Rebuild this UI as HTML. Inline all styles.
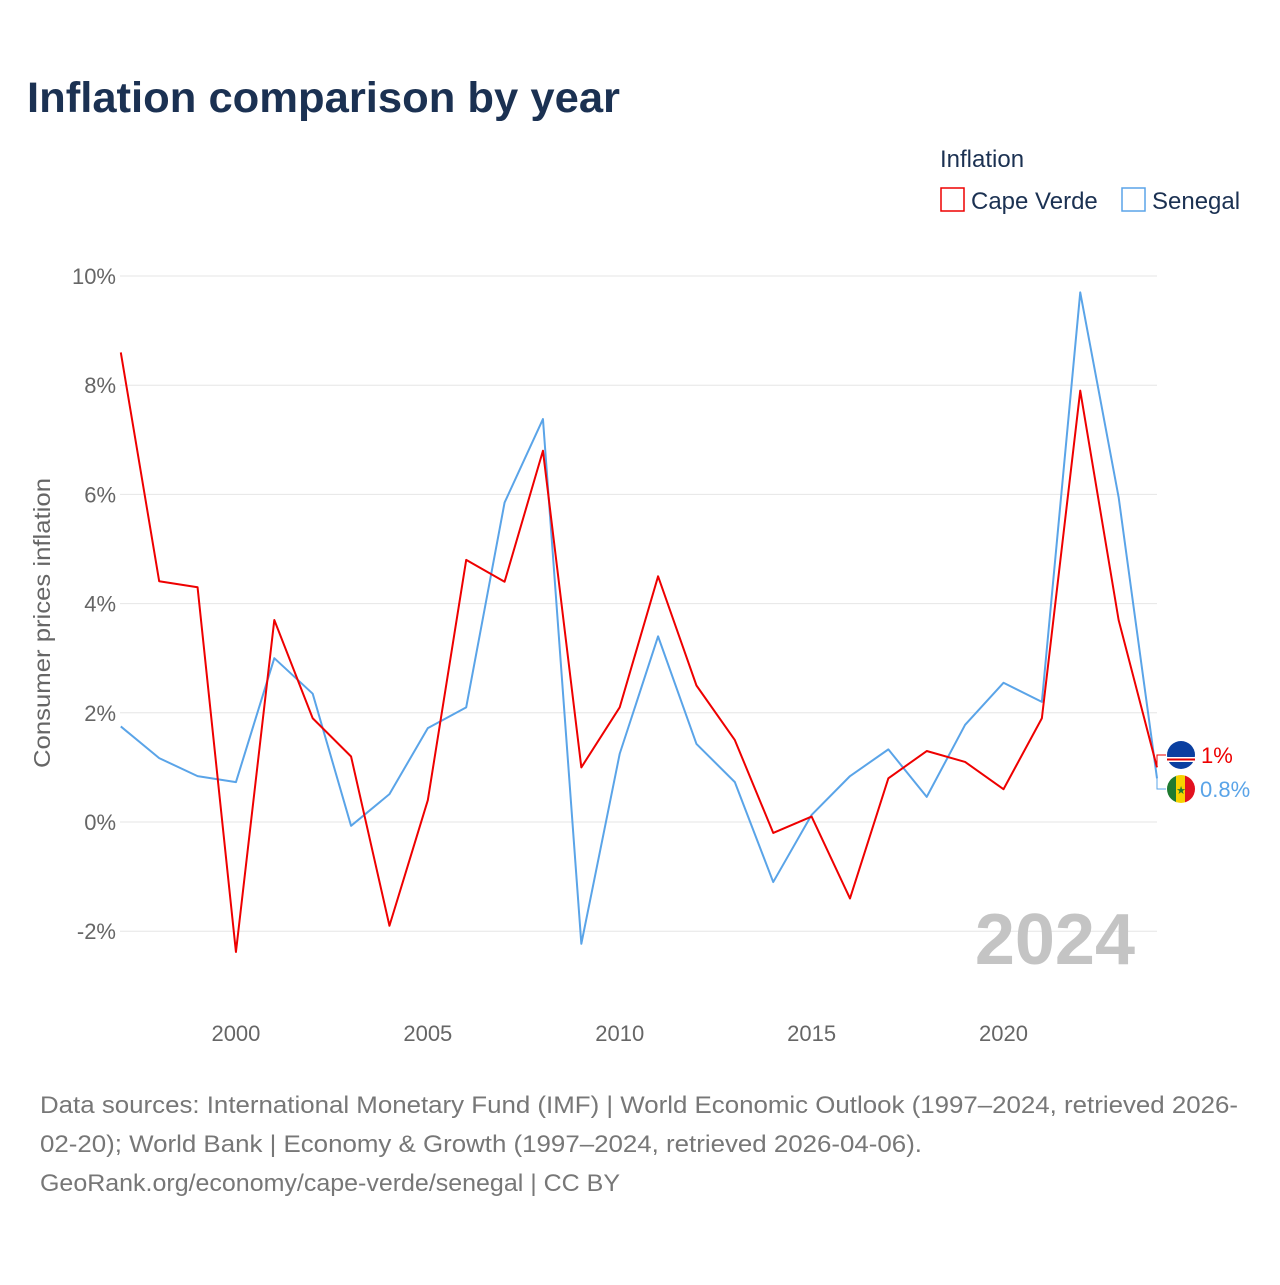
<!DOCTYPE html>
<html><head><meta charset="utf-8"><style>
body{margin:0;background:#fff;font-family:"Liberation Sans",sans-serif;}
svg text{font-family:"Liberation Sans",sans-serif;}
</style></head><body>
<svg id="chart" width="1280" height="1280" viewBox="0 0 1280 1280">
<text x="27" y="112" font-size="43" font-weight="bold" fill="#1b3152" textLength="593" lengthAdjust="spacingAndGlyphs">Inflation comparison by year</text>
<text x="940" y="167" font-size="24" fill="#1b3152">Inflation</text>
<g><rect x="941" y="188" width="23" height="23" fill="none" stroke="#e00" stroke-width="1.5"/><text x="971" y="209" font-size="24" fill="#1b3152">Cape Verde</text></g>
<g><rect x="1122" y="188" width="23" height="23" fill="none" stroke="#5aa4e8" stroke-width="1.5"/><text x="1152" y="209" font-size="24" fill="#1b3152">Senegal</text></g>
<text transform="translate(50,623) rotate(-90)" text-anchor="middle" font-size="23" fill="#666" textLength="290" lengthAdjust="spacingAndGlyphs">Consumer prices inflation</text>
<g id="grid"></g><g id="xt"></g>
<text x="1135" y="964" text-anchor="end" font-size="72" font-weight="bold" fill="#c4c4c4">2024</text>
<g id="lines"></g>
<g>
<circle cx="1181" cy="755" r="14" fill="#0a3fa0"/><rect x="1167" y="757" width="28" height="5" fill="#fff"/><rect x="1167" y="758.5" width="28" height="2" fill="#d00"/>
<text x="1201" y="763" font-size="22" fill="#e00">1%</text>
<clipPath id="sc"><circle cx="1181" cy="789" r="14"/></clipPath>
<g clip-path="url(#sc)"><rect x="1167" y="775" width="10" height="28" fill="#1e7a30"/><rect x="1176" y="775" width="10" height="28" fill="#f6d200"/><rect x="1185" y="775" width="10" height="28" fill="#e2111e"/></g>
<text x="1181" y="794" text-anchor="middle" font-size="11" fill="#1e7a30">★</text>
<text x="1200" y="797" font-size="22" fill="#5aa4e8">0.8%</text>
<polyline points="1157,767 1157,755 1166,755" fill="none" stroke="#e00" stroke-width="1"/>
<polyline points="1157,778 1157,789 1166,789" fill="none" stroke="#5aa4e8" stroke-width="1"/>
</g>
<text x="40" y="1113" font-size="24" fill="#777" textLength="1198" lengthAdjust="spacingAndGlyphs">Data sources: International Monetary Fund (IMF) | World Economic Outlook (1997–2024, retrieved 2026-</text>
<text x="40" y="1152" font-size="24" fill="#777" textLength="882" lengthAdjust="spacingAndGlyphs">02-20); World Bank | Economy &amp; Growth (1997–2024, retrieved 2026-04-06).</text>
<text x="40" y="1191" font-size="24" fill="#777" textLength="580" lengthAdjust="spacingAndGlyphs">GeoRank.org/economy/cape-verde/senegal | CC BY</text>
</svg>
<script>
const years=[1997,1998,1999,2000,2001,2002,2003,2004,2005,2006,2007,2008,2009,2010,2011,2012,2013,2014,2015,2016,2017,2018,2019,2020,2021,2022,2023,2024];
const capeVerde=[8.6,4.41,4.3,-2.38,3.7,1.9,1.2,-1.9,0.4,4.8,4.4,6.8,1.0,2.1,4.5,2.5,1.5,-0.2,0.1,-1.4,0.8,1.3,1.1,0.6,1.9,7.9,3.7,1.0];
const senegal=[1.75,1.17,0.84,0.73,3.0,2.35,-0.07,0.51,1.72,2.1,5.85,7.38,-2.23,1.25,3.4,1.43,0.73,-1.1,0.13,0.84,1.33,0.46,1.78,2.55,2.2,9.7,5.95,0.8];
const yTicks=[-2,0,2,4,6,8,10];
const xTicks=[2000,2005,2010,2015,2020];
const NS="http://www.w3.org/2000/svg";
const xS=y=>120.8+(y-1997)*(1157-120.8)/27;
const yS=v=>822-v*54.6;
const grid=document.getElementById('grid');
yTicks.forEach(t=>{
 const l=document.createElementNS(NS,'line');
 l.setAttribute('x1',120);l.setAttribute('x2',1157);l.setAttribute('y1',yS(t));l.setAttribute('y2',yS(t));
 l.setAttribute('stroke','#e6e6e6');l.setAttribute('stroke-width','1');
 
 
 grid.appendChild(l);
 const tx=document.createElementNS(NS,'text');
 tx.setAttribute('x',116);tx.setAttribute('y',yS(t)+8);tx.setAttribute('text-anchor','end');
 tx.setAttribute('font-size','22');tx.setAttribute('fill','#666');tx.textContent=t+'%';
 
 
 grid.appendChild(tx);
});
const xt=document.getElementById('xt');
xTicks.forEach(t=>{
 const tx=document.createElementNS(NS,'text');
 tx.setAttribute('x',xS(t));tx.setAttribute('y',1041);tx.setAttribute('text-anchor','middle');
 tx.setAttribute('font-size','22');tx.setAttribute('fill','#666');tx.textContent=t;
 
 
 xt.appendChild(tx);
});
const lines=document.getElementById('lines');
function draw(vals,color,name){
 const p=document.createElementNS(NS,'polyline');
 p.setAttribute('points',vals.map((v,i)=>xS(years[i])+','+yS(v)).join(' '));
 p.setAttribute('fill','none');p.setAttribute('stroke',color);p.setAttribute('stroke-width','2');
 p.setAttribute('stroke-linejoin','round');
 
 
 lines.appendChild(p);
}
draw(senegal,'#5aa4e8','line-senegal');
draw(capeVerde,'#ee0000','line-cape-verde');
</script>
</body></html>
